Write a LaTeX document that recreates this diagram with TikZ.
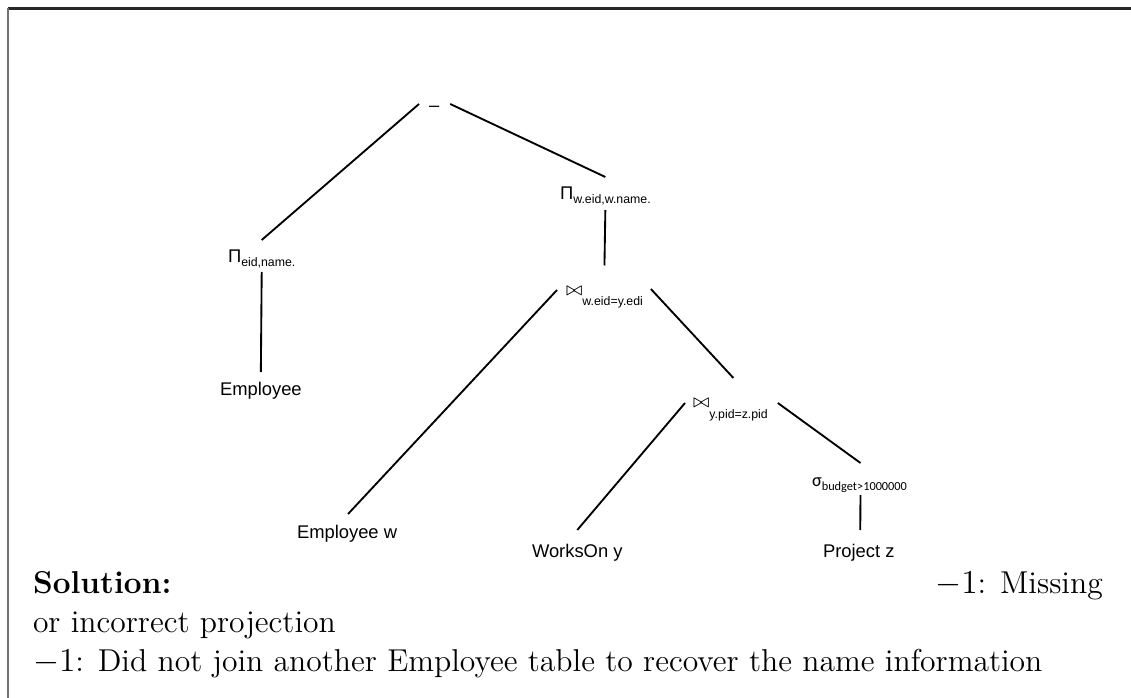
\documentclass[tikz,border=0pt]{standalone}
\usepackage{fontspec}
\usetikzlibrary{calc}
\newfontfamily\arialf{Liberation Sans}
\newfontfamily\calibf{Carlito}
\newcommand\subtxt[2]{\raisebox{-#1}{\fontsize{5.3}{6}\selectfont #2}}
\tikzset{
  lbl/.style={inner sep=0pt, outer sep=0pt, anchor=base west, font=\arialf\fontsize{7.9}{9}\selectfont},
  body/.style={inner sep=0pt, outer sep=0pt, anchor=base west, font=\fontsize{13.6}{16.8}\selectfont},
  edge/.style={line width=0.8pt, black},
}
\begin{document}
\begin{tikzpicture}[x=0.43pt,y=-0.43pt]
\useasboundingbox (0,0) rectangle (1131,698);
% frame
\draw[line width=0.9pt, black!85] (8,8.5) -- (1131,8.5);
\draw[line width=0.7pt, black!55] (8,8.5) -- (8,698);
% nodes
\node[lbl] (minus) at (429,112) {–};
\node[lbl] (pe) at (228,263) {Π\subtxt{1.5pt}{eid,name.}};
\node[lbl] (pw) at (560,200) {Π\subtxt{1.5pt}{w.eid,w.name.}};
\node[lbl] (j1) at (566,295.5) {\fontsize{8}{9}\selectfont$\bowtie$\subtxt{4.5pt}{w.eid=y.edi}};
\node[lbl] (j2) at (693,407.5) {\fontsize{8}{9}\selectfont$\bowtie$\subtxt{4.9pt}{y.pid=z.pid}};
\node[lbl, font=\calibf\fontsize{7.9}{9}\selectfont] (sg) at (812,486) {σ\subtxt{2pt}{budget>1000000}};
\node[lbl] (emp) at (220,395) {Employee};
\node[lbl] (empw) at (297,538) {Employee w};
\node[lbl] (wo) at (532,557) {WorksOn y};
\node[lbl] (pz) at (823,557) {Project z};
% connectors
\draw[edge] ($(minus.base west)+(-10,-8)$) -- ($(pe.base)+(0,-23)$);
\draw[edge] ($(minus.base east)+(11,-8)$) -- ($(pw.base)+(0,-23)$);
\draw[edge] ($(pe.base)+(0,9)$) -- ($(emp.base)+(0,-23)$);
\draw[edge] ($(pw.base)+(0,10)$) -- ($(j1.base)+(0,-30)$);
\draw[edge] ($(j1.base west)+(-9,-5.5)$) -- ($(empw.base)+(1,-24)$);
\draw[edge] ($(j1.base east)+(8,-6.5)$) -- ($(j2.base)+(3,-29.5)$);
\draw[edge] ($(j2.base west)+(-8,-4.5)$) -- ($(wo.base)+(0,-27)$);
\draw[edge] ($(j2.base east)+(10,-4.5)$) -- ($(sg.base)+(1,-23)$);
\draw[edge] ($(sg.base)+(1,9)$) -- ($(pz.base)+(1.5,-27)$);
% solution text
\node[body] (s1) at (33,593) {\makebox[460pt][s]{\textbf{Solution:}\hfill$-1$: Missing}};
\node[body] (s2) at (33,632) {or incorrect projection};
\node[body] (s3) at (33,671) {$-1$: Did not join another Employee table to recover the name information};
\end{tikzpicture}
\end{document}
